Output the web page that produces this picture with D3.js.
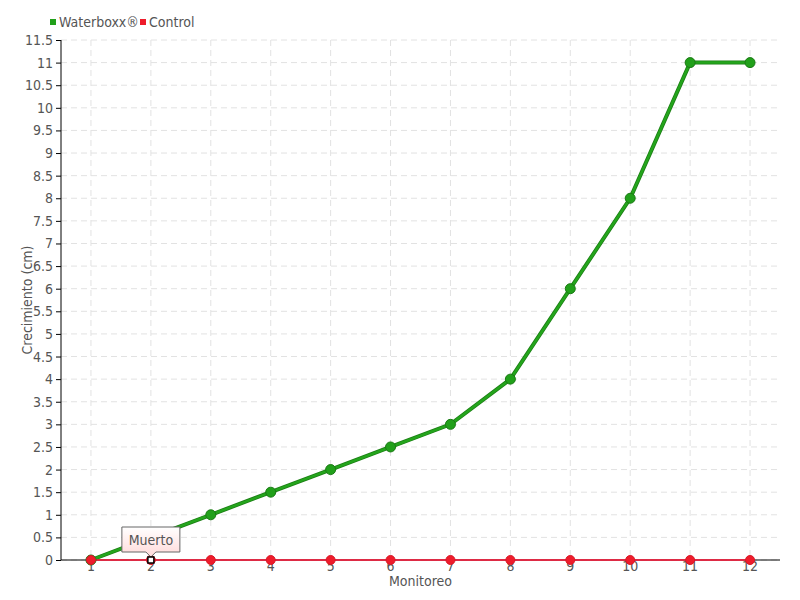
<!DOCTYPE html>
<html>
<head>
<meta charset="utf-8">
<script src="https://cdn.jsdelivr.net/npm/d3@7"></script>
<style>
  body { margin: 0; background: #fff; }
  svg text { font-family: "Liberation Sans Narrow", "DejaVu Sans Condensed", "Roboto Condensed", sans-serif; fill: #555; }
</style>
</head>
<body>
<svg width="800" height="600"></svg>
<script>
// Chart data
var months = ["1", "2", "3", "4", "5", "6", "7", "8", "9", "10", "11", "12"];
var waterboxx = [0, 0.5, 1, 1.5, 2, 2.5, 3, 4, 6, 8, 11, 11];
var control = [0, 0, 0, 0, 0, 0, 0, 0, 0, 0, 0, 0];
var yTicks = d3.range(0, 11.51, 0.5);
var tipIndex = 1, tipText = "Muerto";

var svg = d3.select("svg"),
    margin = { top: 40, right: 20, bottom: 40, left: 61 },
    width = 800 - margin.left - margin.right,
    height = 600 - margin.top - margin.bottom;

var x = d3.scaleBand().domain(months).range([0, width]),
    y = d3.scaleLinear().domain([0, 11.5]).range([height, 0]);

var g = svg.append("g")
    .attr("transform", "translate(" + margin.left + "," + margin.top + ")");

var cx = function (d, i) { return x(months[i]) + x.bandwidth() / 2; };

// grid
g.selectAll(".hgrid").data(yTicks).enter().append("line")
    .attr("x1", 0).attr("x2", width)
    .attr("y1", function (d) { return y(d); }).attr("y2", function (d) { return y(d); })
    .attr("stroke", "#e2e2e2").attr("stroke-dasharray", "6,4");
g.selectAll(".vgrid").data(months).enter().append("line")
    .attr("x1", function (d) { return x(d) + x.bandwidth() / 2; })
    .attr("x2", function (d) { return x(d) + x.bandwidth() / 2; })
    .attr("y1", 0).attr("y2", height)
    .attr("stroke", "#e2e2e2").attr("stroke-dasharray", "6,4");

// axes
var yAxis = g.append("g")
    .call(d3.axisLeft(y).tickValues(yTicks).tickSize(5).tickFormat(function (d) { return d3.format("")(d); }));
yAxis.select(".domain").attr("stroke", "#000").attr("d", "M0,0V" + height);
yAxis.selectAll(".tick line").attr("stroke", "#000");
yAxis.selectAll("text").attr("font-size", 14).attr("fill", "#555").attr("x", -8);

var xAxis = g.append("g")
    .attr("transform", "translate(0," + height + ")")
    .call(d3.axisBottom(x).tickSize(0));
xAxis.select(".domain").attr("stroke", "#000").attr("d", "M0,0H" + width);
xAxis.selectAll("text").attr("font-size", 14).attr("fill", "#555").attr("dy", "0.5em").attr("y", 4);

// axis titles
svg.append("text")
    .attr("transform", "translate(32," + (margin.top + height / 2) + ") rotate(-90)")
    .attr("text-anchor", "middle").attr("font-size", 14)
    .text("Crecimiento (cm)");
svg.append("text")
    .attr("x", margin.left + width / 2).attr("y", 586)
    .attr("text-anchor", "middle").attr("font-size", 14)
    .text("Monitoreo");

// lines
var line = d3.line().x(cx).y(function (d) { return y(d); });
g.append("path").datum(waterboxx).attr("d", line)
    .attr("fill", "none").attr("stroke", "#1b7d14").attr("stroke-width", 4);
g.append("path").datum(waterboxx).attr("d", line)
    .attr("fill", "none").attr("stroke", "#24a51c").attr("stroke-width", 2.5);
g.append("path").datum(control).attr("d", line)
    .attr("fill", "none").attr("stroke", "#ff1133").attr("stroke-width", 1.5);

// points
g.selectAll(".pw").data(waterboxx).enter().append("circle")
    .attr("cx", cx).attr("cy", function (d) { return y(d); }).attr("r", 5)
    .attr("fill", "#21a01a").attr("stroke", "#1a7a14").attr("stroke-width", 1);
g.selectAll(".pc").data(control).enter().append("circle")
    .attr("cx", cx).attr("cy", function (d) { return y(d); }).attr("r", 4.5)
    .attr("fill", "#ee1c2b").attr("stroke", "#d81826").attr("stroke-width", 1);

// tooltip
var tx = cx(null, tipIndex), ty = y(control[tipIndex]);
var defs = svg.append("defs");
var grad = defs.append("linearGradient").attr("id", "tipgrad").attr("x1", 0).attr("y1", 0).attr("x2", 0).attr("y2", 1);
grad.append("stop").attr("offset", "0%").attr("stop-color", "#ffffff");
grad.append("stop").attr("offset", "100%").attr("stop-color", "#ffd9d9");
var tip = g.append("g").attr("transform", "translate(" + tx + "," + ty + ")");
tip.append("path")
    .attr("d", "M-29,-33H29V-8H5L0,-3L-5,-8H-29Z")
    .attr("fill", "url(#tipgrad)").attr("stroke", "#666").attr("stroke-width", 1);
tip.append("text").attr("y", -15).attr("text-anchor", "middle").attr("font-size", 14).attr("fill", "#555").text(tipText);
tip.append("rect").attr("x", -3).attr("y", -3).attr("width", 6).attr("height", 6)
    .attr("fill", "#fff").attr("stroke", "#000").attr("stroke-width", 1.5);

// legend
var legend = svg.append("g").attr("transform", "translate(50,22)");
legend.append("rect").attr("x", 0).attr("y", -3).attr("width", 6).attr("height", 6).attr("fill", "#21a01a");
legend.append("text").attr("x", 9).attr("y", 5).attr("font-size", 14).text("Waterboxx®");
legend.append("rect").attr("x", 90).attr("y", -3).attr("width", 6).attr("height", 6).attr("fill", "#ee1c2b");
legend.append("text").attr("x", 99).attr("y", 5).attr("font-size", 14).text("Control");
</script>
</body>
</html>
